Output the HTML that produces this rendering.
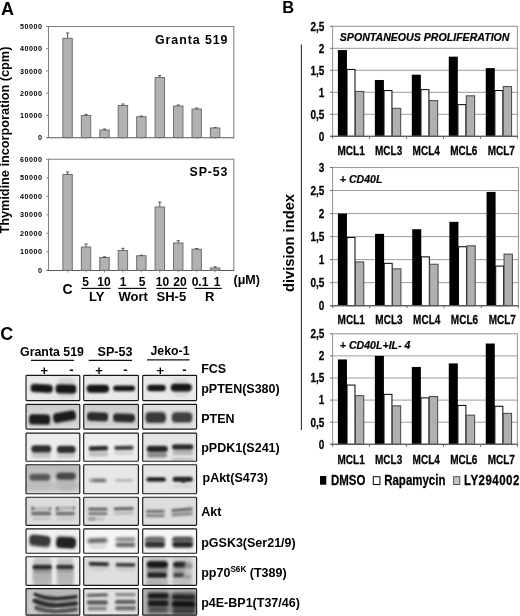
<!DOCTYPE html>
<html><head><meta charset="utf-8"><title>Figure</title>
<style>html,body{margin:0;padding:0;background:#fff}svg{display:block}</style></head>
<body>
<svg width="520" height="616" viewBox="0 0 520 616" font-family="Liberation Sans, Arial, Helvetica, sans-serif">
<rect width="520" height="616" fill="#fff"/>
<text transform="translate(1,14.5)" font-size="18" font-weight="bold" text-anchor="start" fill="#000">A</text>
<path d="M48.5,137.5 L48.5,26.5 L233.8,26.5 L233.8,137.5" fill="none" stroke="#7f7f7f" stroke-width="1.05"/>
<line x1="46.5" y1="137.7" x2="234.3" y2="137.7" stroke="#5a5a5a" stroke-width="1.1"/>
<line x1="46.3" y1="137.5" x2="48.5" y2="137.5" stroke="#7f7f7f" stroke-width="1"/>
<text transform="translate(42.6,140.1)" font-size="7.2" font-weight="bold" text-anchor="end" fill="#000" letter-spacing="0.5">0</text>
<line x1="46.3" y1="115.3" x2="48.5" y2="115.3" stroke="#7f7f7f" stroke-width="1"/>
<text transform="translate(42.6,117.89999999999999)" font-size="7.2" font-weight="bold" text-anchor="end" fill="#000" letter-spacing="0.5">10000</text>
<line x1="46.3" y1="93.1" x2="48.5" y2="93.1" stroke="#7f7f7f" stroke-width="1"/>
<text transform="translate(42.6,95.69999999999999)" font-size="7.2" font-weight="bold" text-anchor="end" fill="#000" letter-spacing="0.5">20000</text>
<line x1="46.3" y1="70.9" x2="48.5" y2="70.9" stroke="#7f7f7f" stroke-width="1"/>
<text transform="translate(42.6,73.5)" font-size="7.2" font-weight="bold" text-anchor="end" fill="#000" letter-spacing="0.5">30000</text>
<line x1="46.3" y1="48.7" x2="48.5" y2="48.7" stroke="#7f7f7f" stroke-width="1"/>
<text transform="translate(42.6,51.300000000000004)" font-size="7.2" font-weight="bold" text-anchor="end" fill="#000" letter-spacing="0.5">40000</text>
<line x1="46.3" y1="26.5" x2="48.5" y2="26.5" stroke="#7f7f7f" stroke-width="1"/>
<text transform="translate(42.6,29.1)" font-size="7.2" font-weight="bold" text-anchor="end" fill="#000" letter-spacing="0.5">50000</text>
<rect x="62.90" y="38.30" width="9.40" height="99.20" fill="#b2b2b2" stroke="#6e6e6e" stroke-width="1" />
<line x1="67.6" y1="38.3" x2="67.6" y2="33" stroke="#444" stroke-width="0.9"/>
<line x1="66.0" y1="33" x2="69.19999999999999" y2="33" stroke="#444" stroke-width="0.9"/>
<line x1="67.6" y1="137.5" x2="67.6" y2="138.7" stroke="#777" stroke-width="0.9"/>
<rect x="81.34" y="115.50" width="9.40" height="22.00" fill="#b2b2b2" stroke="#6e6e6e" stroke-width="1" />
<line x1="86.04" y1="115.5" x2="86.04" y2="114.3" stroke="#444" stroke-width="0.9"/>
<line x1="84.44000000000001" y1="114.3" x2="87.64" y2="114.3" stroke="#444" stroke-width="0.9"/>
<line x1="86.04" y1="137.5" x2="86.04" y2="138.7" stroke="#777" stroke-width="0.9"/>
<rect x="99.78" y="130.00" width="9.40" height="7.50" fill="#b2b2b2" stroke="#6e6e6e" stroke-width="1" />
<line x1="104.48" y1="130" x2="104.48" y2="129" stroke="#444" stroke-width="0.9"/>
<line x1="102.88000000000001" y1="129" x2="106.08" y2="129" stroke="#444" stroke-width="0.9"/>
<line x1="104.48" y1="137.5" x2="104.48" y2="138.7" stroke="#777" stroke-width="0.9"/>
<rect x="118.22" y="105.50" width="9.40" height="32.00" fill="#b2b2b2" stroke="#6e6e6e" stroke-width="1" />
<line x1="122.92" y1="105.5" x2="122.92" y2="104" stroke="#444" stroke-width="0.9"/>
<line x1="121.32000000000001" y1="104" x2="124.52" y2="104" stroke="#444" stroke-width="0.9"/>
<line x1="122.92" y1="137.5" x2="122.92" y2="138.7" stroke="#777" stroke-width="0.9"/>
<rect x="136.66" y="116.75" width="9.40" height="20.75" fill="#b2b2b2" stroke="#6e6e6e" stroke-width="1" />
<line x1="141.35999999999999" y1="116.75" x2="141.35999999999999" y2="116" stroke="#444" stroke-width="0.9"/>
<line x1="139.76" y1="116" x2="142.95999999999998" y2="116" stroke="#444" stroke-width="0.9"/>
<line x1="141.35999999999999" y1="137.5" x2="141.35999999999999" y2="138.7" stroke="#777" stroke-width="0.9"/>
<rect x="155.10" y="77.50" width="9.40" height="60.00" fill="#b2b2b2" stroke="#6e6e6e" stroke-width="1" />
<line x1="159.79999999999998" y1="77.5" x2="159.79999999999998" y2="75.5" stroke="#444" stroke-width="0.9"/>
<line x1="158.2" y1="75.5" x2="161.39999999999998" y2="75.5" stroke="#444" stroke-width="0.9"/>
<line x1="159.79999999999998" y1="137.5" x2="159.79999999999998" y2="138.7" stroke="#777" stroke-width="0.9"/>
<rect x="173.54" y="106.00" width="9.40" height="31.50" fill="#b2b2b2" stroke="#6e6e6e" stroke-width="1" />
<line x1="178.24" y1="106" x2="178.24" y2="105" stroke="#444" stroke-width="0.9"/>
<line x1="176.64000000000001" y1="105" x2="179.84" y2="105" stroke="#444" stroke-width="0.9"/>
<line x1="178.24" y1="137.5" x2="178.24" y2="138.7" stroke="#777" stroke-width="0.9"/>
<rect x="191.98" y="109.00" width="9.40" height="28.50" fill="#b2b2b2" stroke="#6e6e6e" stroke-width="1" />
<line x1="196.68" y1="109" x2="196.68" y2="108" stroke="#444" stroke-width="0.9"/>
<line x1="195.08" y1="108" x2="198.28" y2="108" stroke="#444" stroke-width="0.9"/>
<line x1="196.68" y1="137.5" x2="196.68" y2="138.7" stroke="#777" stroke-width="0.9"/>
<rect x="210.42" y="128.00" width="9.40" height="9.50" fill="#b2b2b2" stroke="#6e6e6e" stroke-width="1" />
<line x1="215.12" y1="128" x2="215.12" y2="127.5" stroke="#444" stroke-width="0.9"/>
<line x1="213.52" y1="127.5" x2="216.72" y2="127.5" stroke="#444" stroke-width="0.9"/>
<line x1="215.12" y1="137.5" x2="215.12" y2="138.7" stroke="#777" stroke-width="0.9"/>
<text transform="translate(155,43.6)" font-size="12.4" font-weight="bold" text-anchor="start" fill="#000" textLength="72.5" lengthAdjust="spacing">Granta 519</text>
<path d="M48.5,270.3 L48.5,159.3 L233.8,159.3 L233.8,270.3" fill="none" stroke="#7f7f7f" stroke-width="1.05"/>
<line x1="46.5" y1="270.5" x2="234.3" y2="270.5" stroke="#5a5a5a" stroke-width="1.1"/>
<line x1="46.3" y1="270.3" x2="48.5" y2="270.3" stroke="#7f7f7f" stroke-width="1"/>
<text transform="translate(42.6,272.90000000000003)" font-size="7.2" font-weight="bold" text-anchor="end" fill="#000" letter-spacing="0.5">0</text>
<line x1="46.3" y1="251.8" x2="48.5" y2="251.8" stroke="#7f7f7f" stroke-width="1"/>
<text transform="translate(42.6,254.4)" font-size="7.2" font-weight="bold" text-anchor="end" fill="#000" letter-spacing="0.5">10000</text>
<line x1="46.3" y1="233.3" x2="48.5" y2="233.3" stroke="#7f7f7f" stroke-width="1"/>
<text transform="translate(42.6,235.9)" font-size="7.2" font-weight="bold" text-anchor="end" fill="#000" letter-spacing="0.5">20000</text>
<line x1="46.3" y1="214.8" x2="48.5" y2="214.8" stroke="#7f7f7f" stroke-width="1"/>
<text transform="translate(42.6,217.4)" font-size="7.2" font-weight="bold" text-anchor="end" fill="#000" letter-spacing="0.5">30000</text>
<line x1="46.3" y1="196.3" x2="48.5" y2="196.3" stroke="#7f7f7f" stroke-width="1"/>
<text transform="translate(42.6,198.9)" font-size="7.2" font-weight="bold" text-anchor="end" fill="#000" letter-spacing="0.5">40000</text>
<line x1="46.3" y1="177.8" x2="48.5" y2="177.8" stroke="#7f7f7f" stroke-width="1"/>
<text transform="translate(42.6,180.4)" font-size="7.2" font-weight="bold" text-anchor="end" fill="#000" letter-spacing="0.5">50000</text>
<line x1="46.3" y1="159.3" x2="48.5" y2="159.3" stroke="#7f7f7f" stroke-width="1"/>
<text transform="translate(42.6,161.9)" font-size="7.2" font-weight="bold" text-anchor="end" fill="#000" letter-spacing="0.5">60000</text>
<rect x="62.90" y="174.50" width="9.40" height="95.80" fill="#b2b2b2" stroke="#6e6e6e" stroke-width="1" />
<line x1="67.6" y1="174.5" x2="67.6" y2="172" stroke="#444" stroke-width="0.9"/>
<line x1="66.0" y1="172" x2="69.19999999999999" y2="172" stroke="#444" stroke-width="0.9"/>
<line x1="67.6" y1="270.3" x2="67.6" y2="272.5" stroke="#777" stroke-width="0.9"/>
<rect x="81.34" y="247.00" width="9.40" height="23.30" fill="#b2b2b2" stroke="#6e6e6e" stroke-width="1" />
<line x1="86.04" y1="247" x2="86.04" y2="244" stroke="#444" stroke-width="0.9"/>
<line x1="84.44000000000001" y1="244" x2="87.64" y2="244" stroke="#444" stroke-width="0.9"/>
<line x1="86.04" y1="270.3" x2="86.04" y2="272.5" stroke="#777" stroke-width="0.9"/>
<rect x="99.78" y="257.50" width="9.40" height="12.80" fill="#b2b2b2" stroke="#6e6e6e" stroke-width="1" />
<line x1="104.48" y1="257.5" x2="104.48" y2="256.8" stroke="#444" stroke-width="0.9"/>
<line x1="102.88000000000001" y1="256.8" x2="106.08" y2="256.8" stroke="#444" stroke-width="0.9"/>
<line x1="104.48" y1="270.3" x2="104.48" y2="272.5" stroke="#777" stroke-width="0.9"/>
<rect x="118.22" y="250.50" width="9.40" height="19.80" fill="#b2b2b2" stroke="#6e6e6e" stroke-width="1" />
<line x1="122.92" y1="250.5" x2="122.92" y2="248.3" stroke="#444" stroke-width="0.9"/>
<line x1="121.32000000000001" y1="248.3" x2="124.52" y2="248.3" stroke="#444" stroke-width="0.9"/>
<line x1="122.92" y1="270.3" x2="122.92" y2="272.5" stroke="#777" stroke-width="0.9"/>
<rect x="136.66" y="255.75" width="9.40" height="14.55" fill="#b2b2b2" stroke="#6e6e6e" stroke-width="1" />
<line x1="141.35999999999999" y1="255.75" x2="141.35999999999999" y2="255.2" stroke="#444" stroke-width="0.9"/>
<line x1="139.76" y1="255.2" x2="142.95999999999998" y2="255.2" stroke="#444" stroke-width="0.9"/>
<line x1="141.35999999999999" y1="270.3" x2="141.35999999999999" y2="272.5" stroke="#777" stroke-width="0.9"/>
<rect x="155.10" y="207.00" width="9.40" height="63.30" fill="#b2b2b2" stroke="#6e6e6e" stroke-width="1" />
<line x1="159.79999999999998" y1="207" x2="159.79999999999998" y2="202" stroke="#444" stroke-width="0.9"/>
<line x1="158.2" y1="202" x2="161.39999999999998" y2="202" stroke="#444" stroke-width="0.9"/>
<line x1="159.79999999999998" y1="270.3" x2="159.79999999999998" y2="272.5" stroke="#777" stroke-width="0.9"/>
<rect x="173.54" y="243.00" width="9.40" height="27.30" fill="#b2b2b2" stroke="#6e6e6e" stroke-width="1" />
<line x1="178.24" y1="243" x2="178.24" y2="240.7" stroke="#444" stroke-width="0.9"/>
<line x1="176.64000000000001" y1="240.7" x2="179.84" y2="240.7" stroke="#444" stroke-width="0.9"/>
<line x1="178.24" y1="270.3" x2="178.24" y2="272.5" stroke="#777" stroke-width="0.9"/>
<rect x="191.98" y="249.25" width="9.40" height="21.05" fill="#b2b2b2" stroke="#6e6e6e" stroke-width="1" />
<line x1="196.68" y1="249.25" x2="196.68" y2="248.5" stroke="#444" stroke-width="0.9"/>
<line x1="195.08" y1="248.5" x2="198.28" y2="248.5" stroke="#444" stroke-width="0.9"/>
<line x1="196.68" y1="270.3" x2="196.68" y2="272.5" stroke="#777" stroke-width="0.9"/>
<rect x="210.42" y="268.00" width="9.40" height="2.30" fill="#b2b2b2" stroke="#6e6e6e" stroke-width="1" />
<line x1="215.12" y1="268" x2="215.12" y2="266.8" stroke="#444" stroke-width="0.9"/>
<line x1="213.52" y1="266.8" x2="216.72" y2="266.8" stroke="#444" stroke-width="0.9"/>
<line x1="215.12" y1="270.3" x2="215.12" y2="272.5" stroke="#777" stroke-width="0.9"/>
<text transform="translate(189.5,175.6)" font-size="12.4" font-weight="bold" text-anchor="start" fill="#000" textLength="38" lengthAdjust="spacing">SP-53</text>
<text transform="translate(9.1,233.6) rotate(-90)" font-size="12.6" font-weight="bold" text-anchor="start" fill="#000" textLength="187" lengthAdjust="spacingAndGlyphs">Thymidine incorporation (cpm)</text>
<text transform="translate(67.5,293.8)" font-size="14" font-weight="bold" text-anchor="middle" fill="#000">C</text>
<text transform="translate(85.5,286.4)" font-size="12" font-weight="bold" text-anchor="middle" fill="#000">5</text>
<text transform="translate(104,286.4)" font-size="12" font-weight="bold" text-anchor="middle" fill="#000">10</text>
<text transform="translate(123,286.4)" font-size="12" font-weight="bold" text-anchor="middle" fill="#000">1</text>
<text transform="translate(142,286.4)" font-size="12" font-weight="bold" text-anchor="middle" fill="#000">5</text>
<text transform="translate(162.5,286.4)" font-size="12" font-weight="bold" text-anchor="middle" fill="#000">10</text>
<text transform="translate(180,286.4)" font-size="12" font-weight="bold" text-anchor="middle" fill="#000">20</text>
<text transform="translate(200,286.4)" font-size="12" font-weight="bold" text-anchor="middle" fill="#000">0.1</text>
<text transform="translate(217,286.4)" font-size="12" font-weight="bold" text-anchor="middle" fill="#000">1</text>
<line x1="81.3" y1="288.4" x2="110.5" y2="288.4" stroke="#111" stroke-width="1.2"/>
<line x1="118.3" y1="288.4" x2="146.3" y2="288.4" stroke="#111" stroke-width="1.2"/>
<line x1="156.3" y1="288.4" x2="187" y2="288.4" stroke="#111" stroke-width="1.2"/>
<line x1="194.5" y1="288.4" x2="221.8" y2="288.4" stroke="#111" stroke-width="1.2"/>
<text transform="translate(96.6,300.9)" font-size="13" font-weight="bold" text-anchor="middle" fill="#000">LY</text>
<text transform="translate(133.1,300.9)" font-size="13" font-weight="bold" text-anchor="middle" fill="#000">Wort</text>
<text transform="translate(171.3,301.2)" font-size="13" font-weight="bold" text-anchor="middle" fill="#000">SH-5</text>
<text transform="translate(209.6,301.2)" font-size="13" font-weight="bold" text-anchor="middle" fill="#000">R</text>
<text transform="translate(233.5,284.3)" font-size="12.5" font-weight="bold" text-anchor="start" fill="#000">(μM)</text>
<text transform="translate(282.3,13.2)" font-size="16.5" font-weight="bold" text-anchor="start" fill="#000">B</text>
<line x1="301.4" y1="44.5" x2="301.4" y2="430" stroke="#333" stroke-width="1.1"/>
<text transform="translate(294.3,292) rotate(-90)" font-size="14.8" font-weight="bold" text-anchor="start" fill="#000" textLength="98" lengthAdjust="spacingAndGlyphs">division index</text>
<line x1="332.6" y1="114.30000000000001" x2="517.4" y2="114.30000000000001" stroke="#9c9c9c" stroke-width="1"/>
<line x1="332.6" y1="92.30000000000001" x2="517.4" y2="92.30000000000001" stroke="#9c9c9c" stroke-width="1"/>
<line x1="332.6" y1="70.3" x2="517.4" y2="70.3" stroke="#9c9c9c" stroke-width="1"/>
<line x1="332.6" y1="48.3" x2="517.4" y2="48.3" stroke="#9c9c9c" stroke-width="1"/>
<rect x="337.90" y="50.06" width="9.05" height="86.24" fill="#000" stroke="none" stroke-width="1" />
<rect x="347.05" y="69.42" width="7.95" height="66.88" fill="#fff" stroke="#000" stroke-width="1" />
<rect x="355.40" y="91.42" width="8.35" height="44.88" fill="#b0b0b0" stroke="#444" stroke-width="1" />
<rect x="374.86" y="79.98" width="9.05" height="56.32" fill="#000" stroke="none" stroke-width="1" />
<rect x="384.01" y="90.54" width="7.95" height="45.76" fill="#fff" stroke="#000" stroke-width="1" />
<rect x="392.36" y="108.32" width="8.35" height="27.98" fill="#b0b0b0" stroke="#444" stroke-width="1" />
<rect x="411.82" y="74.70" width="9.05" height="61.60" fill="#000" stroke="none" stroke-width="1" />
<rect x="420.97" y="89.66" width="7.95" height="46.64" fill="#fff" stroke="#000" stroke-width="1" />
<rect x="429.32" y="100.66" width="8.35" height="35.64" fill="#b0b0b0" stroke="#444" stroke-width="1" />
<rect x="448.78" y="56.66" width="9.05" height="79.64" fill="#000" stroke="none" stroke-width="1" />
<rect x="457.93" y="104.62" width="7.95" height="31.68" fill="#fff" stroke="#000" stroke-width="1" />
<rect x="466.28" y="95.82" width="8.35" height="40.48" fill="#b0b0b0" stroke="#444" stroke-width="1" />
<rect x="485.74" y="68.10" width="9.05" height="68.20" fill="#000" stroke="none" stroke-width="1" />
<rect x="494.89" y="90.54" width="7.95" height="45.76" fill="#fff" stroke="#000" stroke-width="1" />
<rect x="503.24" y="86.58" width="8.35" height="49.72" fill="#b0b0b0" stroke="#444" stroke-width="1" />
<rect x="332.6" y="26.3" width="184.79999999999995" height="110.00000000000001" fill="none" stroke="#9c9c9c" stroke-width="1.1"/>
<line x1="330.1" y1="136.3" x2="517.4" y2="136.3" stroke="#444" stroke-width="1.1"/>
<line x1="330.1" y1="136.3" x2="332.6" y2="136.3" stroke="#666" stroke-width="1"/>
<text transform="translate(324.3,140.60000000000002) scale(0.82,1)" font-size="12.2" font-weight="bold" text-anchor="end" fill="#000" stroke="#000" stroke-width="0.25">0</text>
<line x1="330.1" y1="114.30000000000001" x2="332.6" y2="114.30000000000001" stroke="#666" stroke-width="1"/>
<text transform="translate(324.3,118.60000000000001) scale(0.82,1)" font-size="12.2" font-weight="bold" text-anchor="end" fill="#000" stroke="#000" stroke-width="0.25">0,5</text>
<line x1="330.1" y1="92.30000000000001" x2="332.6" y2="92.30000000000001" stroke="#666" stroke-width="1"/>
<text transform="translate(324.3,96.60000000000001) scale(0.82,1)" font-size="12.2" font-weight="bold" text-anchor="end" fill="#000" stroke="#000" stroke-width="0.25">1</text>
<line x1="330.1" y1="70.3" x2="332.6" y2="70.3" stroke="#666" stroke-width="1"/>
<text transform="translate(324.3,74.6) scale(0.82,1)" font-size="12.2" font-weight="bold" text-anchor="end" fill="#000" stroke="#000" stroke-width="0.25">1,5</text>
<line x1="330.1" y1="48.3" x2="332.6" y2="48.3" stroke="#666" stroke-width="1"/>
<text transform="translate(324.3,52.599999999999994) scale(0.82,1)" font-size="12.2" font-weight="bold" text-anchor="end" fill="#000" stroke="#000" stroke-width="0.25">2</text>
<line x1="330.1" y1="26.299999999999983" x2="332.6" y2="26.299999999999983" stroke="#666" stroke-width="1"/>
<text transform="translate(324.3,30.599999999999984) scale(0.82,1)" font-size="12.2" font-weight="bold" text-anchor="end" fill="#000" stroke="#000" stroke-width="0.25">2,5</text>
<line x1="332.6" y1="136.3" x2="332.6" y2="138.8" stroke="#666" stroke-width="1"/>
<line x1="369.56" y1="136.3" x2="369.56" y2="138.8" stroke="#666" stroke-width="1"/>
<line x1="406.52" y1="136.3" x2="406.52" y2="138.8" stroke="#666" stroke-width="1"/>
<line x1="443.48" y1="136.3" x2="443.48" y2="138.8" stroke="#666" stroke-width="1"/>
<line x1="480.44" y1="136.3" x2="480.44" y2="138.8" stroke="#666" stroke-width="1"/>
<line x1="517.4" y1="136.3" x2="517.4" y2="138.8" stroke="#666" stroke-width="1"/>
<text transform="translate(351.08000000000004,155) scale(0.82,1)" font-size="12.2" font-weight="bold" text-anchor="middle" fill="#000" stroke="#000" stroke-width="0.25">MCL1</text>
<text transform="translate(388.64000000000004,155) scale(0.82,1)" font-size="12.2" font-weight="bold" text-anchor="middle" fill="#000" stroke="#000" stroke-width="0.25">MCL3</text>
<text transform="translate(426.2,155) scale(0.82,1)" font-size="12.2" font-weight="bold" text-anchor="middle" fill="#000" stroke="#000" stroke-width="0.25">MCL4</text>
<text transform="translate(463.76000000000005,155) scale(0.82,1)" font-size="12.2" font-weight="bold" text-anchor="middle" fill="#000" stroke="#000" stroke-width="0.25">MCL6</text>
<text transform="translate(501.31999999999994,155) scale(0.82,1)" font-size="12.2" font-weight="bold" text-anchor="middle" fill="#000" stroke="#000" stroke-width="0.25">MCL7</text>
<text transform="translate(339.8,40.5)" font-size="10.6" font-weight="bold" text-anchor="start" fill="#000" font-style="italic" stroke="#000" stroke-width="0.2">SPONTANEOUS PROLIFERATION</text>
<line x1="332.6" y1="282.66666666666663" x2="518.4" y2="282.66666666666663" stroke="#9c9c9c" stroke-width="1"/>
<line x1="332.6" y1="259.6333333333333" x2="518.4" y2="259.6333333333333" stroke="#9c9c9c" stroke-width="1"/>
<line x1="332.6" y1="236.6" x2="518.4" y2="236.6" stroke="#9c9c9c" stroke-width="1"/>
<line x1="332.6" y1="213.56666666666666" x2="518.4" y2="213.56666666666666" stroke="#9c9c9c" stroke-width="1"/>
<line x1="332.6" y1="190.5333333333333" x2="518.4" y2="190.5333333333333" stroke="#9c9c9c" stroke-width="1"/>
<rect x="337.90" y="213.57" width="9.05" height="92.13" fill="#000" stroke="none" stroke-width="1" />
<rect x="347.05" y="237.52" width="7.95" height="68.18" fill="#fff" stroke="#000" stroke-width="1" />
<rect x="355.40" y="261.94" width="8.35" height="43.76" fill="#b0b0b0" stroke="#444" stroke-width="1" />
<rect x="375.06" y="233.84" width="9.05" height="71.86" fill="#000" stroke="none" stroke-width="1" />
<rect x="384.21" y="263.32" width="7.95" height="42.38" fill="#fff" stroke="#000" stroke-width="1" />
<rect x="392.56" y="268.85" width="8.35" height="36.85" fill="#b0b0b0" stroke="#444" stroke-width="1" />
<rect x="412.22" y="229.23" width="9.05" height="76.47" fill="#000" stroke="none" stroke-width="1" />
<rect x="421.37" y="256.87" width="7.95" height="48.83" fill="#fff" stroke="#000" stroke-width="1" />
<rect x="429.72" y="264.24" width="8.35" height="41.46" fill="#b0b0b0" stroke="#444" stroke-width="1" />
<rect x="449.38" y="221.86" width="9.05" height="83.84" fill="#000" stroke="none" stroke-width="1" />
<rect x="458.53" y="246.73" width="7.95" height="58.97" fill="#fff" stroke="#000" stroke-width="1" />
<rect x="466.88" y="245.81" width="8.35" height="59.89" fill="#b0b0b0" stroke="#444" stroke-width="1" />
<rect x="486.54" y="191.92" width="9.05" height="113.78" fill="#000" stroke="none" stroke-width="1" />
<rect x="495.69" y="266.08" width="7.95" height="39.62" fill="#fff" stroke="#000" stroke-width="1" />
<rect x="504.04" y="254.11" width="8.35" height="51.59" fill="#b0b0b0" stroke="#444" stroke-width="1" />
<rect x="332.6" y="167.5" width="185.79999999999995" height="138.2" fill="none" stroke="#9c9c9c" stroke-width="1.1"/>
<line x1="330.1" y1="305.7" x2="518.4" y2="305.7" stroke="#444" stroke-width="1.1"/>
<line x1="330.1" y1="305.7" x2="332.6" y2="305.7" stroke="#666" stroke-width="1"/>
<text transform="translate(324.3,310.0) scale(0.82,1)" font-size="12.2" font-weight="bold" text-anchor="end" fill="#000" stroke="#000" stroke-width="0.25">0</text>
<line x1="330.1" y1="282.66666666666663" x2="332.6" y2="282.66666666666663" stroke="#666" stroke-width="1"/>
<text transform="translate(324.3,286.96666666666664) scale(0.82,1)" font-size="12.2" font-weight="bold" text-anchor="end" fill="#000" stroke="#000" stroke-width="0.25">0,5</text>
<line x1="330.1" y1="259.6333333333333" x2="332.6" y2="259.6333333333333" stroke="#666" stroke-width="1"/>
<text transform="translate(324.3,263.93333333333334) scale(0.82,1)" font-size="12.2" font-weight="bold" text-anchor="end" fill="#000" stroke="#000" stroke-width="0.25">1</text>
<line x1="330.1" y1="236.6" x2="332.6" y2="236.6" stroke="#666" stroke-width="1"/>
<text transform="translate(324.3,240.9) scale(0.82,1)" font-size="12.2" font-weight="bold" text-anchor="end" fill="#000" stroke="#000" stroke-width="0.25">1,5</text>
<line x1="330.1" y1="213.56666666666666" x2="332.6" y2="213.56666666666666" stroke="#666" stroke-width="1"/>
<text transform="translate(324.3,217.86666666666667) scale(0.82,1)" font-size="12.2" font-weight="bold" text-anchor="end" fill="#000" stroke="#000" stroke-width="0.25">2</text>
<line x1="330.1" y1="190.5333333333333" x2="332.6" y2="190.5333333333333" stroke="#666" stroke-width="1"/>
<text transform="translate(324.3,194.83333333333331) scale(0.82,1)" font-size="12.2" font-weight="bold" text-anchor="end" fill="#000" stroke="#000" stroke-width="0.25">2,5</text>
<line x1="330.1" y1="167.5" x2="332.6" y2="167.5" stroke="#666" stroke-width="1"/>
<text transform="translate(324.3,171.8) scale(0.82,1)" font-size="12.2" font-weight="bold" text-anchor="end" fill="#000" stroke="#000" stroke-width="0.25">3</text>
<line x1="332.6" y1="305.7" x2="332.6" y2="308.2" stroke="#666" stroke-width="1"/>
<line x1="369.76" y1="305.7" x2="369.76" y2="308.2" stroke="#666" stroke-width="1"/>
<line x1="406.92" y1="305.7" x2="406.92" y2="308.2" stroke="#666" stroke-width="1"/>
<line x1="444.08" y1="305.7" x2="444.08" y2="308.2" stroke="#666" stroke-width="1"/>
<line x1="481.24" y1="305.7" x2="481.24" y2="308.2" stroke="#666" stroke-width="1"/>
<line x1="518.4" y1="305.7" x2="518.4" y2="308.2" stroke="#666" stroke-width="1"/>
<text transform="translate(351.18,323.5) scale(0.82,1)" font-size="12.2" font-weight="bold" text-anchor="middle" fill="#000" stroke="#000" stroke-width="0.25">MCL1</text>
<text transform="translate(388.94000000000005,323.5) scale(0.82,1)" font-size="12.2" font-weight="bold" text-anchor="middle" fill="#000" stroke="#000" stroke-width="0.25">MCL3</text>
<text transform="translate(426.7,323.5) scale(0.82,1)" font-size="12.2" font-weight="bold" text-anchor="middle" fill="#000" stroke="#000" stroke-width="0.25">MCL4</text>
<text transform="translate(464.46,323.5) scale(0.82,1)" font-size="12.2" font-weight="bold" text-anchor="middle" fill="#000" stroke="#000" stroke-width="0.25">MCL6</text>
<text transform="translate(502.2199999999999,323.5) scale(0.82,1)" font-size="12.2" font-weight="bold" text-anchor="middle" fill="#000" stroke="#000" stroke-width="0.25">MCL7</text>
<text transform="translate(339.8,183)" font-size="10.6" font-weight="bold" text-anchor="start" fill="#000" font-style="italic" stroke="#000" stroke-width="0.2">+ CD40L</text>
<line x1="332.6" y1="422.2" x2="517.4" y2="422.2" stroke="#9c9c9c" stroke-width="1"/>
<line x1="332.6" y1="400.1" x2="517.4" y2="400.1" stroke="#9c9c9c" stroke-width="1"/>
<line x1="332.6" y1="378.0" x2="517.4" y2="378.0" stroke="#9c9c9c" stroke-width="1"/>
<line x1="332.6" y1="355.9" x2="517.4" y2="355.9" stroke="#9c9c9c" stroke-width="1"/>
<rect x="337.90" y="359.44" width="9.05" height="84.86" fill="#000" stroke="none" stroke-width="1" />
<rect x="347.05" y="385.07" width="7.95" height="59.23" fill="#fff" stroke="#000" stroke-width="1" />
<rect x="355.40" y="395.68" width="8.35" height="48.62" fill="#b0b0b0" stroke="#444" stroke-width="1" />
<rect x="374.86" y="355.90" width="9.05" height="88.40" fill="#000" stroke="none" stroke-width="1" />
<rect x="384.01" y="394.35" width="7.95" height="49.95" fill="#fff" stroke="#000" stroke-width="1" />
<rect x="392.36" y="405.85" width="8.35" height="38.45" fill="#b0b0b0" stroke="#444" stroke-width="1" />
<rect x="411.82" y="366.95" width="9.05" height="77.35" fill="#000" stroke="none" stroke-width="1" />
<rect x="420.97" y="397.89" width="7.95" height="46.41" fill="#fff" stroke="#000" stroke-width="1" />
<rect x="429.32" y="396.56" width="8.35" height="47.74" fill="#b0b0b0" stroke="#444" stroke-width="1" />
<rect x="448.78" y="363.41" width="9.05" height="80.89" fill="#000" stroke="none" stroke-width="1" />
<rect x="457.93" y="405.40" width="7.95" height="38.90" fill="#fff" stroke="#000" stroke-width="1" />
<rect x="466.28" y="415.13" width="8.35" height="29.17" fill="#b0b0b0" stroke="#444" stroke-width="1" />
<rect x="485.74" y="343.52" width="9.05" height="100.78" fill="#000" stroke="none" stroke-width="1" />
<rect x="494.89" y="406.29" width="7.95" height="38.01" fill="#fff" stroke="#000" stroke-width="1" />
<rect x="503.24" y="413.36" width="8.35" height="30.94" fill="#b0b0b0" stroke="#444" stroke-width="1" />
<rect x="332.6" y="333.8" width="184.79999999999995" height="110.5" fill="none" stroke="#9c9c9c" stroke-width="1.1"/>
<line x1="330.1" y1="444.3" x2="517.4" y2="444.3" stroke="#444" stroke-width="1.1"/>
<line x1="330.1" y1="444.3" x2="332.6" y2="444.3" stroke="#666" stroke-width="1"/>
<text transform="translate(324.3,448.6) scale(0.82,1)" font-size="12.2" font-weight="bold" text-anchor="end" fill="#000" stroke="#000" stroke-width="0.25">0</text>
<line x1="330.1" y1="422.2" x2="332.6" y2="422.2" stroke="#666" stroke-width="1"/>
<text transform="translate(324.3,426.5) scale(0.82,1)" font-size="12.2" font-weight="bold" text-anchor="end" fill="#000" stroke="#000" stroke-width="0.25">0,5</text>
<line x1="330.1" y1="400.1" x2="332.6" y2="400.1" stroke="#666" stroke-width="1"/>
<text transform="translate(324.3,404.40000000000003) scale(0.82,1)" font-size="12.2" font-weight="bold" text-anchor="end" fill="#000" stroke="#000" stroke-width="0.25">1</text>
<line x1="330.1" y1="378.0" x2="332.6" y2="378.0" stroke="#666" stroke-width="1"/>
<text transform="translate(324.3,382.3) scale(0.82,1)" font-size="12.2" font-weight="bold" text-anchor="end" fill="#000" stroke="#000" stroke-width="0.25">1,5</text>
<line x1="330.1" y1="355.9" x2="332.6" y2="355.9" stroke="#666" stroke-width="1"/>
<text transform="translate(324.3,360.2) scale(0.82,1)" font-size="12.2" font-weight="bold" text-anchor="end" fill="#000" stroke="#000" stroke-width="0.25">2</text>
<line x1="330.1" y1="333.8" x2="332.6" y2="333.8" stroke="#666" stroke-width="1"/>
<text transform="translate(324.3,338.1) scale(0.82,1)" font-size="12.2" font-weight="bold" text-anchor="end" fill="#000" stroke="#000" stroke-width="0.25">2,5</text>
<line x1="332.6" y1="444.3" x2="332.6" y2="446.8" stroke="#666" stroke-width="1"/>
<line x1="369.56" y1="444.3" x2="369.56" y2="446.8" stroke="#666" stroke-width="1"/>
<line x1="406.52" y1="444.3" x2="406.52" y2="446.8" stroke="#666" stroke-width="1"/>
<line x1="443.48" y1="444.3" x2="443.48" y2="446.8" stroke="#666" stroke-width="1"/>
<line x1="480.44" y1="444.3" x2="480.44" y2="446.8" stroke="#666" stroke-width="1"/>
<line x1="517.4" y1="444.3" x2="517.4" y2="446.8" stroke="#666" stroke-width="1"/>
<text transform="translate(351.08000000000004,463.8) scale(0.82,1)" font-size="12.2" font-weight="bold" text-anchor="middle" fill="#000" stroke="#000" stroke-width="0.25">MCL1</text>
<text transform="translate(388.64000000000004,463.8) scale(0.82,1)" font-size="12.2" font-weight="bold" text-anchor="middle" fill="#000" stroke="#000" stroke-width="0.25">MCL3</text>
<text transform="translate(426.2,463.8) scale(0.82,1)" font-size="12.2" font-weight="bold" text-anchor="middle" fill="#000" stroke="#000" stroke-width="0.25">MCL4</text>
<text transform="translate(463.76000000000005,463.8) scale(0.82,1)" font-size="12.2" font-weight="bold" text-anchor="middle" fill="#000" stroke="#000" stroke-width="0.25">MCL6</text>
<text transform="translate(501.31999999999994,463.8) scale(0.82,1)" font-size="12.2" font-weight="bold" text-anchor="middle" fill="#000" stroke="#000" stroke-width="0.25">MCL7</text>
<text transform="translate(339.8,349)" font-size="10.6" font-weight="bold" text-anchor="start" fill="#000" font-style="italic" stroke="#000" stroke-width="0.2">+ CD40L+IL- 4</text>
<rect x="320.00" y="476.00" width="6.30" height="8.70" fill="#000" stroke="none" stroke-width="1" />
<text transform="translate(331,485.4) scale(0.82,1)" font-size="14" font-weight="bold" text-anchor="start" fill="#000" stroke="#000" stroke-width="0.25">DMSO</text>
<rect x="373.30" y="476.70" width="6.60" height="7.80" fill="#fff" stroke="#000" stroke-width="1" />
<text transform="translate(384.2,485.4) scale(0.82,1)" font-size="14" font-weight="bold" text-anchor="start" fill="#000" stroke="#000" stroke-width="0.25">Rapamycin</text>
<rect x="453.60" y="476.70" width="6.20" height="7.80" fill="#c4c4c4" stroke="#555" stroke-width="1" />
<text transform="translate(464,485.4) scale(0.82,1)" font-size="14" font-weight="bold" text-anchor="start" fill="#000" stroke="#000" stroke-width="0.25" textLength="67.5" lengthAdjust="spacing">LY294002</text>
<defs><filter id="b1" x="-20%" y="-50%" width="140%" height="200%"><feGaussianBlur stdDeviation="1.1"/></filter><filter id="b2" x="-20%" y="-80%" width="140%" height="260%"><feGaussianBlur stdDeviation="0.8"/></filter><linearGradient id="gd" x1="0" y1="0" x2="0" y2="1"><stop offset="0" stop-color="#000" stop-opacity="0.1"/><stop offset="0.55" stop-color="#000" stop-opacity="0"/><stop offset="1" stop-color="#fff" stop-opacity="0.3"/></linearGradient><filter id="b3" x="-20%" y="-50%" width="140%" height="200%"><feGaussianBlur stdDeviation="1.6"/></filter></defs>
<text transform="translate(0.3,340)" font-size="18" font-weight="bold" text-anchor="start" fill="#000">C</text>
<text transform="translate(20,356.3)" font-size="12" font-weight="bold" text-anchor="start" fill="#000" textLength="64" lengthAdjust="spacingAndGlyphs">Granta 519</text>
<text transform="translate(97.5,356.3)" font-size="12" font-weight="bold" text-anchor="start" fill="#000" textLength="35" lengthAdjust="spacingAndGlyphs">SP-53</text>
<text transform="translate(150.5,355.3)" font-size="12" font-weight="bold" text-anchor="start" fill="#000" textLength="39" lengthAdjust="spacingAndGlyphs">Jeko-1</text>
<line x1="31" y1="360.4" x2="74" y2="360.4" stroke="#111" stroke-width="1.2"/>
<line x1="88.7" y1="360.4" x2="132" y2="360.4" stroke="#111" stroke-width="1.2"/>
<line x1="147" y1="359.9" x2="189.5" y2="359.9" stroke="#111" stroke-width="1.2"/>
<text transform="translate(44.3,374.6)" font-size="13" font-weight="bold" text-anchor="middle" fill="#000">+</text>
<text transform="translate(99,374.6)" font-size="13" font-weight="bold" text-anchor="middle" fill="#000">+</text>
<text transform="translate(160.3,374.6)" font-size="13" font-weight="bold" text-anchor="middle" fill="#000">+</text>
<text transform="translate(71.3,374)" font-size="13" font-weight="bold" text-anchor="middle" fill="#000">-</text>
<text transform="translate(125.5,374)" font-size="13" font-weight="bold" text-anchor="middle" fill="#000">-</text>
<text transform="translate(184.5,374)" font-size="13" font-weight="bold" text-anchor="middle" fill="#000">-</text>
<text transform="translate(201.2,373.2)" font-size="12.5" font-weight="bold" text-anchor="start" fill="#000">FCS</text>
<clipPath id="c00"><rect x="26" y="375.3" width="53.80" height="25.30"/></clipPath>
<rect x="26.00" y="375.30" width="53.80" height="25.30" fill="#e9e9e9" stroke="none" stroke-width="1" />
<g clip-path="url(#c00)">
<rect x="58.00" y="378.00" width="17.00" height="20.00" rx="3.60" fill="#d4d4d4" filter="url(#b3)" transform="rotate(0.00 66.50 388.00)"/>
<rect x="30.60" y="384.20" width="22.20" height="8.40" rx="3.60" fill="#141414" filter="url(#b1)" transform="rotate(3.09 41.70 388.40)"/>
<rect x="55.60" y="384.60" width="20.70" height="9.00" rx="3.60" fill="#141414" filter="url(#b1)" transform="rotate(1.38 65.95 389.10)"/>
</g>
<rect x="26.00" y="375.30" width="53.80" height="25.30" fill="none" stroke="#1a1a1a" stroke-width="1.15" rx="0.8"/>
<clipPath id="c01"><rect x="83.7" y="375.3" width="54.70" height="25.30"/></clipPath>
<rect x="83.70" y="375.30" width="54.70" height="25.30" fill="#e9e9e9" stroke="none" stroke-width="1" />
<g clip-path="url(#c01)">
<rect x="86.70" y="384.80" width="22.30" height="7.90" rx="3.60" fill="#141414" filter="url(#b1)" transform="rotate(0.00 97.85 388.75)"/>
<rect x="113.20" y="385.50" width="21.80" height="5.70" rx="2.85" fill="#181818" filter="url(#b1)" transform="rotate(0.00 124.10 388.35)"/>
</g>
<rect x="83.70" y="375.30" width="54.70" height="25.30" fill="none" stroke="#1a1a1a" stroke-width="1.15" rx="0.8"/>
<clipPath id="c02"><rect x="142.7" y="375.3" width="53.90" height="25.30"/></clipPath>
<rect x="142.70" y="375.30" width="53.90" height="25.30" fill="#e9e9e9" stroke="none" stroke-width="1" />
<g clip-path="url(#c02)">
<rect x="174.00" y="378.00" width="14.00" height="19.00" rx="3.60" fill="#d8d8d8" filter="url(#b3)" transform="rotate(0.00 181.00 387.50)"/>
<rect x="147.20" y="384.80" width="18.60" height="6.40" rx="3.20" fill="#161616" filter="url(#b1)" transform="rotate(0.00 156.50 388.00)"/>
<rect x="170.70" y="383.80" width="21.10" height="7.60" rx="3.60" fill="#141414" filter="url(#b1)" transform="rotate(0.00 181.25 387.60)"/>
</g>
<rect x="142.70" y="375.30" width="53.90" height="25.30" fill="none" stroke="#1a1a1a" stroke-width="1.15" rx="0.8"/>
<clipPath id="c10"><rect x="26" y="404.4" width="53.80" height="24.70"/></clipPath>
<rect x="26.00" y="404.40" width="53.80" height="24.70" fill="#dedede" stroke="none" stroke-width="1" />
<rect x="26.00" y="404.40" width="53.80" height="24.70" fill="url(#gd)" stroke="none" stroke-width="1" />
<g clip-path="url(#c10)">
<rect x="29.00" y="414.20" width="21.20" height="10.40" rx="3.60" fill="#1c1c1c" filter="url(#b1)" transform="rotate(1.35 39.60 419.40)"/>
<rect x="53.00" y="411.80" width="23.00" height="9.80" rx="3.60" fill="#1c1c1c" filter="url(#b1)" transform="rotate(-9.87 64.50 416.70)"/>
</g>
<rect x="26.00" y="404.40" width="53.80" height="24.70" fill="none" stroke="#1a1a1a" stroke-width="1.15" rx="0.8"/>
<clipPath id="c11"><rect x="83.7" y="404.4" width="54.70" height="24.70"/></clipPath>
<rect x="83.70" y="404.40" width="54.70" height="24.70" fill="#dedede" stroke="none" stroke-width="1" />
<rect x="83.70" y="404.40" width="54.70" height="24.70" fill="url(#gd)" stroke="none" stroke-width="1" />
<g clip-path="url(#c11)">
<rect x="87.00" y="412.30" width="21.20" height="8.90" rx="3.60" fill="#2c2c2c" filter="url(#b1)" transform="rotate(2.16 97.60 416.75)"/>
<rect x="113.00" y="413.50" width="22.00" height="8.70" rx="3.60" fill="#2a2a2a" filter="url(#b1)" transform="rotate(2.08 124.00 417.85)"/>
</g>
<rect x="83.70" y="404.40" width="54.70" height="24.70" fill="none" stroke="#1a1a1a" stroke-width="1.15" rx="0.8"/>
<clipPath id="c12"><rect x="142.7" y="404.4" width="53.90" height="24.70"/></clipPath>
<rect x="142.70" y="404.40" width="53.90" height="24.70" fill="#e0e0e0" stroke="none" stroke-width="1" />
<g clip-path="url(#c12)">
<rect x="145.50" y="412.00" width="20.10" height="11.00" rx="3.60" fill="#3c3c3c" filter="url(#b3)" transform="rotate(0.00 155.55 417.50)"/>
<rect x="172.00" y="412.30" width="20.00" height="10.30" rx="3.60" fill="#404040" filter="url(#b3)" transform="rotate(0.00 182.00 417.45)"/>
<rect x="147.00" y="414.00" width="18.00" height="7.00" rx="3.50" fill="#383838" filter="url(#b1)" transform="rotate(0.00 156.00 417.50)"/>
<rect x="173.00" y="414.00" width="18.00" height="7.00" rx="3.50" fill="#404040" filter="url(#b1)" transform="rotate(0.00 182.00 417.50)"/>
</g>
<rect x="142.70" y="404.40" width="53.90" height="24.70" fill="none" stroke="#1a1a1a" stroke-width="1.15" rx="0.8"/>
<clipPath id="c20"><rect x="26" y="433.1" width="53.80" height="28.10"/></clipPath>
<rect x="26.00" y="433.10" width="53.80" height="28.10" fill="#ececec" stroke="none" stroke-width="1" />
<g clip-path="url(#c20)">
<rect x="31.50" y="452.00" width="19.50" height="6.00" rx="3.00" fill="#c4c4c4" filter="url(#b3)" transform="rotate(0.00 41.25 455.00)"/>
<rect x="57.00" y="452.00" width="18.50" height="6.00" rx="3.00" fill="#c8c8c8" filter="url(#b3)" transform="rotate(0.00 66.25 455.00)"/>
<rect x="31.20" y="445.30" width="20.10" height="7.30" rx="3.60" fill="#2e2e2e" filter="url(#b1)" transform="rotate(0.00 41.25 448.95)"/>
<rect x="56.90" y="445.80" width="18.80" height="7.20" rx="3.60" fill="#2e2e2e" filter="url(#b1)" transform="rotate(0.00 66.30 449.40)"/>
</g>
<rect x="26.00" y="433.10" width="53.80" height="28.10" fill="none" stroke="#1a1a1a" stroke-width="1.15" rx="0.8"/>
<clipPath id="c21"><rect x="83.7" y="433.1" width="54.70" height="28.10"/></clipPath>
<rect x="83.70" y="433.10" width="54.70" height="28.10" fill="#ededed" stroke="none" stroke-width="1" />
<g clip-path="url(#c21)">
<rect x="88.60" y="452.00" width="19.40" height="4.50" rx="2.25" fill="#bdbdbd" filter="url(#b1)" transform="rotate(0.00 98.30 454.25)"/>
<rect x="114.50" y="451.50" width="19.00" height="3.50" rx="1.75" fill="#d2d2d2" filter="url(#b1)" transform="rotate(0.00 124.00 453.25)"/>
<rect x="88.60" y="446.00" width="19.60" height="4.80" rx="2.40" fill="#2c2c2c" filter="url(#b1)" transform="rotate(-1.75 98.40 448.40)"/>
<rect x="114.20" y="445.80" width="19.50" height="4.10" rx="2.05" fill="#404040" filter="url(#b1)" transform="rotate(-1.18 123.95 447.85)"/>
</g>
<rect x="83.70" y="433.10" width="54.70" height="28.10" fill="none" stroke="#1a1a1a" stroke-width="1.15" rx="0.8"/>
<clipPath id="c22"><rect x="142.7" y="433.1" width="53.90" height="28.10"/></clipPath>
<rect x="142.70" y="433.10" width="53.90" height="28.10" fill="#e4e4e4" stroke="none" stroke-width="1" />
<g clip-path="url(#c22)">
<rect x="147.00" y="452.50" width="20.00" height="5.00" rx="2.50" fill="#8a8a8a" filter="url(#b1)" transform="rotate(0.00 157.00 455.00)"/>
<rect x="172.50" y="450.00" width="20.50" height="5.00" rx="2.50" fill="#b4b4b4" filter="url(#b1)" transform="rotate(0.00 182.75 452.50)"/>
<rect x="172.00" y="458.50" width="21.00" height="2.00" rx="1.00" fill="#b0b0b0" filter="url(#b2)" transform="rotate(0.00 182.50 459.50)"/>
<rect x="146.70" y="445.80" width="21.00" height="6.40" rx="3.20" fill="#262626" filter="url(#b1)" transform="rotate(0.00 157.20 449.00)"/>
<rect x="172.00" y="444.20" width="21.30" height="5.60" rx="2.80" fill="#2c2c2c" filter="url(#b1)" transform="rotate(0.00 182.65 447.00)"/>
</g>
<rect x="142.70" y="433.10" width="53.90" height="28.10" fill="none" stroke="#1a1a1a" stroke-width="1.15" rx="0.8"/>
<clipPath id="c30"><rect x="26" y="464.7" width="53.80" height="29.00"/></clipPath>
<rect x="26.00" y="464.70" width="53.80" height="29.00" fill="#cdcdcd" stroke="none" stroke-width="1" />
<rect x="26.00" y="464.70" width="53.80" height="29.00" fill="url(#gd)" stroke="none" stroke-width="1" />
<g clip-path="url(#c30)">
<rect x="30.00" y="478.00" width="20.00" height="12.00" rx="3.60" fill="#bdbdbd" filter="url(#b3)" transform="rotate(0.00 40.00 484.00)"/>
<rect x="57.00" y="478.00" width="18.00" height="12.00" rx="3.60" fill="#b8b8b8" filter="url(#b3)" transform="rotate(0.00 66.00 484.00)"/>
<rect x="29.40" y="474.00" width="20.80" height="6.40" rx="3.20" fill="#555" filter="url(#b3)" transform="rotate(0.00 39.80 477.20)"/>
<rect x="56.20" y="472.80" width="19.50" height="6.80" rx="3.40" fill="#454545" filter="url(#b3)" transform="rotate(0.00 65.95 476.20)"/>
<rect x="31.00" y="475.30" width="18.00" height="3.70" rx="1.85" fill="#5a5a5a" filter="url(#b1)" transform="rotate(0.00 40.00 477.15)"/>
<rect x="58.00" y="474.00" width="16.50" height="4.00" rx="2.00" fill="#484848" filter="url(#b1)" transform="rotate(0.00 66.25 476.00)"/>
</g>
<rect x="26.00" y="464.70" width="53.80" height="29.00" fill="none" stroke="#1a1a1a" stroke-width="1.15" rx="0.8"/>
<clipPath id="c31"><rect x="83.7" y="464.7" width="54.70" height="29.00"/></clipPath>
<rect x="83.70" y="464.70" width="54.70" height="29.00" fill="#e7e7e7" stroke="none" stroke-width="1" />
<g clip-path="url(#c31)">
<rect x="89.00" y="478.60" width="18.00" height="3.60" rx="1.80" fill="#a0a0a0" filter="url(#b1)" transform="rotate(0.00 98.00 480.40)"/>
<rect x="93.00" y="479.00" width="12.00" height="2.80" rx="1.40" fill="#7c7c7c" filter="url(#b1)" transform="rotate(0.00 99.00 480.40)"/>
<rect x="115.00" y="479.00" width="18.00" height="2.80" rx="1.40" fill="#b4b4b4" filter="url(#b1)" transform="rotate(0.00 124.00 480.40)"/>
</g>
<rect x="83.70" y="464.70" width="54.70" height="29.00" fill="none" stroke="#1a1a1a" stroke-width="1.15" rx="0.8"/>
<clipPath id="c32"><rect x="142.7" y="464.7" width="53.90" height="29.00"/></clipPath>
<rect x="142.70" y="464.70" width="53.90" height="29.00" fill="#e5e5e5" stroke="none" stroke-width="1" />
<g clip-path="url(#c32)">
<rect x="146.40" y="477.20" width="19.40" height="4.40" rx="2.20" fill="#1c1c1c" filter="url(#b2)" transform="rotate(0.00 156.10 479.40)"/>
<rect x="172.60" y="476.80" width="20.10" height="5.00" rx="2.50" fill="#242424" filter="url(#b2)" transform="rotate(0.00 182.65 479.30)"/>
<rect x="181.00" y="479.00" width="5.00" height="4.20" rx="2.10" fill="#333" filter="url(#b2)" transform="rotate(0.00 183.50 481.10)"/>
<rect x="174.00" y="484.00" width="18.00" height="4.00" rx="2.00" fill="#d4d4d4" filter="url(#b3)" transform="rotate(0.00 183.00 486.00)"/>
</g>
<rect x="142.70" y="464.70" width="53.90" height="29.00" fill="none" stroke="#1a1a1a" stroke-width="1.15" rx="0.8"/>
<clipPath id="c40"><rect x="26" y="497.2" width="53.80" height="28.20"/></clipPath>
<rect x="26.00" y="497.20" width="53.80" height="28.20" fill="#dcdcdc" stroke="none" stroke-width="1" />
<g clip-path="url(#c40)">
<rect x="31.20" y="507.20" width="20.10" height="2.80" rx="1.40" fill="#b4b4b4" filter="url(#b1)" transform="rotate(0.00 41.25 508.60)"/>
<rect x="31.00" y="506.50" width="3.50" height="4.00" rx="2.00" fill="#777" filter="url(#b1)" transform="rotate(0.00 32.75 508.50)"/>
<rect x="48.50" y="507.00" width="3.00" height="3.50" rx="1.75" fill="#888" filter="url(#b1)" transform="rotate(0.00 50.00 508.75)"/>
<rect x="31.20" y="511.60" width="20.10" height="3.80" rx="1.90" fill="#6e6e6e" filter="url(#b1)" transform="rotate(0.00 41.25 513.50)"/>
<rect x="32.00" y="517.00" width="18.50" height="3.20" rx="1.60" fill="#c2c2c2" filter="url(#b1)" transform="rotate(0.00 41.25 518.60)"/>
<rect x="55.60" y="506.80" width="19.40" height="2.80" rx="1.40" fill="#a8a8a8" filter="url(#b1)" transform="rotate(-1.77 65.30 508.20)"/>
<rect x="55.60" y="507.00" width="3.40" height="3.80" rx="1.90" fill="#707070" filter="url(#b1)" transform="rotate(0.00 57.30 508.90)"/>
<rect x="72.50" y="506.50" width="2.80" height="3.50" rx="1.75" fill="#8a8a8a" filter="url(#b1)" transform="rotate(0.00 73.90 508.25)"/>
<rect x="55.60" y="511.80" width="19.40" height="3.60" rx="1.80" fill="#707070" filter="url(#b1)" transform="rotate(0.00 65.30 513.60)"/>
<rect x="56.50" y="517.00" width="18.00" height="3.20" rx="1.60" fill="#c6c6c6" filter="url(#b1)" transform="rotate(0.00 65.50 518.60)"/>
</g>
<rect x="26.00" y="497.20" width="53.80" height="28.20" fill="none" stroke="#1a1a1a" stroke-width="1.15" rx="0.8"/>
<clipPath id="c41"><rect x="83.7" y="497.2" width="54.70" height="28.20"/></clipPath>
<rect x="83.70" y="497.20" width="54.70" height="28.20" fill="#dfdfdf" stroke="none" stroke-width="1" />
<g clip-path="url(#c41)">
<rect x="88.00" y="507.60" width="19.50" height="3.20" rx="1.60" fill="#6a6a6a" filter="url(#b1)" transform="rotate(0.00 97.75 509.20)"/>
<rect x="88.00" y="511.90" width="19.50" height="3.40" rx="1.70" fill="#7c7c7c" filter="url(#b1)" transform="rotate(0.00 97.75 513.60)"/>
<rect x="88.00" y="517.40" width="16.00" height="2.80" rx="1.40" fill="#bcbcbc" filter="url(#b1)" transform="rotate(0.00 96.00 518.80)"/>
<rect x="88.00" y="517.20" width="8.00" height="3.20" rx="1.60" fill="#9a9a9a" filter="url(#b1)" transform="rotate(0.00 92.00 518.80)"/>
<rect x="113.60" y="507.30" width="20.10" height="2.90" rx="1.45" fill="#5c5c5c" filter="url(#b1)" transform="rotate(-1.14 123.65 508.75)"/>
<rect x="113.60" y="511.80" width="20.10" height="2.60" rx="1.30" fill="#b4b4b4" filter="url(#b1)" transform="rotate(-0.86 123.65 513.10)"/>
</g>
<rect x="83.70" y="497.20" width="54.70" height="28.20" fill="none" stroke="#1a1a1a" stroke-width="1.15" rx="0.8"/>
<clipPath id="c42"><rect x="142.7" y="497.2" width="53.90" height="28.20"/></clipPath>
<rect x="142.70" y="497.20" width="53.90" height="28.20" fill="#dddddd" stroke="none" stroke-width="1" />
<g clip-path="url(#c42)">
<rect x="145.70" y="509.80" width="19.30" height="3.10" rx="1.55" fill="#747474" filter="url(#b1)" transform="rotate(-0.89 155.35 511.35)"/>
<rect x="145.70" y="514.00" width="19.30" height="3.20" rx="1.60" fill="#868686" filter="url(#b1)" transform="rotate(0.00 155.35 515.60)"/>
<rect x="171.40" y="508.30" width="21.30" height="3.20" rx="1.60" fill="#646464" filter="url(#b1)" transform="rotate(-4.83 182.05 509.90)"/>
<rect x="171.40" y="512.60" width="21.30" height="3.20" rx="1.60" fill="#868686" filter="url(#b1)" transform="rotate(-4.03 182.05 514.20)"/>
</g>
<rect x="142.70" y="497.20" width="53.90" height="28.20" fill="none" stroke="#1a1a1a" stroke-width="1.15" rx="0.8"/>
<clipPath id="c50"><rect x="26" y="528.9" width="53.80" height="24.30"/></clipPath>
<rect x="26.00" y="528.90" width="53.80" height="24.30" fill="#f1f1f1" stroke="none" stroke-width="1" />
<g clip-path="url(#c50)">
<rect x="29.40" y="535.50" width="20.80" height="11.00" rx="3.60" fill="#3a3a3a" filter="url(#b3)" transform="rotate(6.04 39.80 541.00)"/>
<rect x="56.20" y="536.80" width="19.50" height="11.20" rx="3.60" fill="#222" filter="url(#b3)" transform="rotate(2.94 65.95 542.40)"/>
<rect x="30.50" y="536.50" width="19.00" height="6.50" rx="3.25" fill="#383838" filter="url(#b1)" transform="rotate(6.60 40.00 539.75)"/>
<rect x="57.50" y="539.00" width="17.50" height="8.00" rx="3.60" fill="#202020" filter="url(#b1)" transform="rotate(2.62 66.25 543.00)"/>
</g>
<rect x="26.00" y="528.90" width="53.80" height="24.30" fill="none" stroke="#1a1a1a" stroke-width="1.15" rx="0.8"/>
<clipPath id="c51"><rect x="83.7" y="528.9" width="54.70" height="24.30"/></clipPath>
<rect x="83.70" y="528.90" width="54.70" height="24.30" fill="#f5f5f5" stroke="none" stroke-width="1" />
<g clip-path="url(#c51)">
<rect x="87.40" y="538.00" width="20.10" height="5.30" rx="2.65" fill="#6e6e6e" filter="url(#b3)" transform="rotate(-2.28 97.45 540.65)"/>
<rect x="89.00" y="545.00" width="17.00" height="3.00" rx="1.50" fill="#cfcfcf" filter="url(#b3)" transform="rotate(0.00 97.50 546.50)"/>
<rect x="115.50" y="537.50" width="20.00" height="3.70" rx="1.85" fill="#808080" filter="url(#b3)" transform="rotate(0.00 125.50 539.35)"/>
<rect x="115.50" y="542.80" width="20.00" height="4.20" rx="2.10" fill="#5e5e5e" filter="url(#b3)" transform="rotate(0.00 125.50 544.90)"/>
</g>
<rect x="83.70" y="528.90" width="54.70" height="24.30" fill="none" stroke="#1a1a1a" stroke-width="1.15" rx="0.8"/>
<clipPath id="c52"><rect x="142.7" y="528.9" width="53.90" height="24.30"/></clipPath>
<rect x="142.70" y="528.90" width="53.90" height="24.30" fill="#f5f5f5" stroke="none" stroke-width="1" />
<g clip-path="url(#c52)">
<rect x="145.00" y="536.80" width="19.80" height="11.20" rx="3.60" fill="#8a8a8a" filter="url(#b3)" transform="rotate(0.00 154.90 542.40)"/>
<rect x="172.40" y="536.80" width="20.60" height="11.20" rx="3.60" fill="#848484" filter="url(#b3)" transform="rotate(0.00 182.70 542.40)"/>
<rect x="145.50" y="537.50" width="19.00" height="3.80" rx="1.90" fill="#6a6a6a" filter="url(#b1)" transform="rotate(0.00 155.00 539.40)"/>
<rect x="145.30" y="542.00" width="19.30" height="5.00" rx="2.50" fill="#303030" filter="url(#b1)" transform="rotate(0.00 154.95 544.50)"/>
<rect x="172.60" y="537.30" width="20.00" height="3.90" rx="1.95" fill="#555" filter="url(#b1)" transform="rotate(0.00 182.60 539.25)"/>
<rect x="172.80" y="542.00" width="19.80" height="5.00" rx="2.50" fill="#2c2c2c" filter="url(#b1)" transform="rotate(0.00 182.70 544.50)"/>
</g>
<rect x="142.70" y="528.90" width="53.90" height="24.30" fill="none" stroke="#1a1a1a" stroke-width="1.15" rx="0.8"/>
<clipPath id="c60"><rect x="26" y="556.7" width="53.80" height="28.70"/></clipPath>
<rect x="26.00" y="556.70" width="53.80" height="28.70" fill="#ececec" stroke="none" stroke-width="1" />
<g clip-path="url(#c60)">
<rect x="33.00" y="558.00" width="18.50" height="27.00" rx="3.60" fill="#c4c4c4" filter="url(#b3)" transform="rotate(0.00 42.25 571.50)"/>
<rect x="57.00" y="558.00" width="16.50" height="27.00" rx="3.60" fill="#c8c8c8" filter="url(#b3)" transform="rotate(0.00 65.25 571.50)"/>
<rect x="33.50" y="567.00" width="17.50" height="18.00" rx="3.60" fill="#b4b4b4" filter="url(#b3)" transform="rotate(0.00 42.25 576.00)"/>
<rect x="57.50" y="567.00" width="15.50" height="18.00" rx="3.60" fill="#b8b8b8" filter="url(#b3)" transform="rotate(0.00 65.25 576.00)"/>
<rect x="33.50" y="569.50" width="17.50" height="4.00" rx="2.00" fill="#9a9a9a" filter="url(#b1)" transform="rotate(0.00 42.25 571.50)"/>
<rect x="57.50" y="569.50" width="15.50" height="3.50" rx="1.75" fill="#a2a2a2" filter="url(#b1)" transform="rotate(0.00 65.25 571.25)"/>
<rect x="34.00" y="575.00" width="17.00" height="3.00" rx="1.50" fill="#b0b0b0" filter="url(#b1)" transform="rotate(0.00 42.50 576.50)"/>
<rect x="58.00" y="575.00" width="15.00" height="3.00" rx="1.50" fill="#b4b4b4" filter="url(#b1)" transform="rotate(0.00 65.50 576.50)"/>
<rect x="32.50" y="564.80" width="19.50" height="4.80" rx="2.40" fill="#2a2a2a" filter="url(#b1)" transform="rotate(0.00 42.25 567.20)"/>
<rect x="56.20" y="564.80" width="17.60" height="4.40" rx="2.20" fill="#343434" filter="url(#b1)" transform="rotate(0.00 65.00 567.00)"/>
</g>
<rect x="26.00" y="556.70" width="53.80" height="28.70" fill="none" stroke="#1a1a1a" stroke-width="1.15" rx="0.8"/>
<clipPath id="c61"><rect x="83.7" y="556.7" width="54.70" height="28.70"/></clipPath>
<rect x="83.70" y="556.70" width="54.70" height="28.70" fill="#dedede" stroke="none" stroke-width="1" />
<g clip-path="url(#c61)">
<rect x="90.00" y="566.00" width="18.00" height="4.00" rx="2.00" fill="#c8c8c8" filter="url(#b3)" transform="rotate(0.00 99.00 568.00)"/>
<rect x="117.00" y="567.00" width="17.00" height="4.00" rx="2.00" fill="#cacaca" filter="url(#b3)" transform="rotate(0.00 125.50 569.00)"/>
<rect x="88.60" y="562.00" width="20.40" height="3.90" rx="1.95" fill="#303030" filter="url(#b1)" transform="rotate(1.68 98.80 563.95)"/>
<rect x="115.50" y="563.00" width="20.00" height="3.80" rx="1.90" fill="#3c3c3c" filter="url(#b1)" transform="rotate(0.86 125.50 564.90)"/>
</g>
<rect x="83.70" y="556.70" width="54.70" height="28.70" fill="none" stroke="#1a1a1a" stroke-width="1.15" rx="0.8"/>
<clipPath id="c62"><rect x="142.7" y="556.7" width="53.90" height="28.70"/></clipPath>
<rect x="142.70" y="556.70" width="53.90" height="28.70" fill="#e2e2e2" stroke="none" stroke-width="1" />
<g clip-path="url(#c62)">
<rect x="146.00" y="558.00" width="22.00" height="28.00" rx="3.60" fill="#bcbcbc" filter="url(#b3)" transform="rotate(0.00 157.00 572.00)"/>
<rect x="172.00" y="558.00" width="20.00" height="28.00" rx="3.60" fill="#c2c2c2" filter="url(#b3)" transform="rotate(0.00 182.00 572.00)"/>
<rect x="147.00" y="566.00" width="20.50" height="8.00" rx="3.60" fill="#8c8c8c" filter="url(#b3)" transform="rotate(0.00 157.25 570.00)"/>
<rect x="173.50" y="566.00" width="11.50" height="8.00" rx="3.60" fill="#a0a0a0" filter="url(#b3)" transform="rotate(0.00 179.25 570.00)"/>
<rect x="146.80" y="561.20" width="21.00" height="6.60" rx="3.30" fill="#161616" filter="url(#b1)" transform="rotate(0.00 157.30 564.50)"/>
<rect x="147.30" y="572.60" width="19.50" height="5.20" rx="2.60" fill="#202020" filter="url(#b1)" transform="rotate(0.00 157.05 575.20)"/>
<rect x="173.20" y="561.80" width="13.30" height="5.80" rx="2.90" fill="#262626" filter="url(#b1)" transform="rotate(0.00 179.85 564.70)"/>
<rect x="184.00" y="563.50" width="8.50" height="4.50" rx="2.25" fill="#8a8a8a" filter="url(#b3)" transform="rotate(0.00 188.25 565.75)"/>
<rect x="173.20" y="572.80" width="11.30" height="4.70" rx="2.35" fill="#484848" filter="url(#b1)" transform="rotate(0.00 178.85 575.15)"/>
<rect x="183.00" y="574.50" width="8.00" height="4.50" rx="2.25" fill="#9a9a9a" filter="url(#b3)" transform="rotate(0.00 187.00 576.75)"/>
<rect x="147.00" y="580.50" width="20.00" height="4.00" rx="2.00" fill="#b0b0b0" filter="url(#b3)" transform="rotate(0.00 157.00 582.50)"/>
<rect x="174.00" y="580.50" width="16.00" height="4.00" rx="2.00" fill="#bcbcbc" filter="url(#b3)" transform="rotate(0.00 182.00 582.50)"/>
</g>
<rect x="142.70" y="556.70" width="53.90" height="28.70" fill="none" stroke="#1a1a1a" stroke-width="1.15" rx="0.8"/>
<clipPath id="c70"><rect x="26" y="588.6" width="53.80" height="26.60"/></clipPath>
<rect x="26.00" y="588.60" width="53.80" height="26.60" fill="#b9b9b9" stroke="none" stroke-width="1" />
<g clip-path="url(#c70)">
<rect x="27.00" y="590.00" width="11.00" height="24.00" rx="3.60" fill="#c8c8c8" filter="url(#b3)" transform="rotate(0.00 32.50 602.00)"/>
<rect x="36.00" y="595.00" width="20.00" height="17.00" rx="3.60" fill="#989898" filter="url(#b3)" transform="rotate(0.00 46.00 603.50)"/>
<rect x="58.00" y="598.00" width="18.00" height="14.00" rx="3.60" fill="#a4a4a4" filter="url(#b3)" transform="rotate(0.00 67.00 605.00)"/>
<path d="M35,594.2 Q45,598.6 55.5,598.8 Q66,598.4 76,596.8" fill="none" stroke="#262626" stroke-width="3.4" stroke-linecap="round" filter="url(#b1)"/>
<path d="M34.5,600.8 Q45,605.2 55.5,605.4 Q66,605 76,603.4" fill="none" stroke="#2a2a2a" stroke-width="4.2" stroke-linecap="round" filter="url(#b1)"/>
<path d="M36,607.8 Q46,611.3 55.5,611.5 Q66,611 76,609.3" fill="none" stroke="#4c4c4c" stroke-width="3.5" stroke-linecap="round" filter="url(#b1)"/>
</g>
<rect x="26.00" y="588.60" width="53.80" height="26.60" fill="none" stroke="#1a1a1a" stroke-width="1.15" rx="0.8"/>
<clipPath id="c71"><rect x="83.7" y="588.6" width="54.70" height="26.60"/></clipPath>
<rect x="83.70" y="588.60" width="54.70" height="26.60" fill="#e0e0e0" stroke="none" stroke-width="1" />
<g clip-path="url(#c71)">
<rect x="86.70" y="593.60" width="21.30" height="3.20" rx="1.60" fill="#606060" filter="url(#b1)" transform="rotate(-1.61 97.35 595.20)"/>
<rect x="86.70" y="600.30" width="21.30" height="4.50" rx="2.25" fill="#5c5c5c" filter="url(#b1)" transform="rotate(0.00 97.35 602.55)"/>
<rect x="87.50" y="606.60" width="19.50" height="3.90" rx="1.95" fill="#858585" filter="url(#b1)" transform="rotate(0.00 97.25 608.55)"/>
<rect x="115.00" y="593.00" width="21.00" height="3.20" rx="1.60" fill="#868686" filter="url(#b1)" transform="rotate(0.00 125.50 594.60)"/>
<rect x="115.00" y="599.70" width="21.00" height="4.40" rx="2.20" fill="#606060" filter="url(#b1)" transform="rotate(0.00 125.50 601.90)"/>
<rect x="115.00" y="606.00" width="21.00" height="4.40" rx="2.20" fill="#727272" filter="url(#b1)" transform="rotate(0.00 125.50 608.20)"/>
</g>
<rect x="83.70" y="588.60" width="54.70" height="26.60" fill="none" stroke="#1a1a1a" stroke-width="1.15" rx="0.8"/>
<clipPath id="c72"><rect x="142.7" y="588.6" width="53.90" height="26.60"/></clipPath>
<rect x="142.70" y="588.60" width="53.90" height="26.60" fill="#b2b2b2" stroke="none" stroke-width="1" />
<g clip-path="url(#c72)">
<rect x="147.00" y="591.00" width="22.00" height="23.00" rx="3.60" fill="#7c7c7c" filter="url(#b3)" transform="rotate(0.00 158.00 602.50)"/>
<rect x="171.50" y="592.00" width="24.50" height="23.00" rx="3.60" fill="#646464" filter="url(#b3)" transform="rotate(0.00 183.75 603.50)"/>
<rect x="166.00" y="594.00" width="8.00" height="18.00" rx="3.60" fill="#808080" filter="url(#b3)" transform="rotate(0.00 170.00 603.00)"/>
<rect x="148.00" y="593.20" width="20.50" height="5.20" rx="2.60" fill="#1a1a1a" filter="url(#b1)" transform="rotate(0.00 158.25 595.80)"/>
<rect x="148.00" y="600.20" width="20.50" height="6.20" rx="3.10" fill="#1a1a1a" filter="url(#b1)" transform="rotate(0.00 158.25 603.30)"/>
<rect x="149.00" y="607.20" width="18.50" height="4.60" rx="2.30" fill="#505050" filter="url(#b1)" transform="rotate(0.00 158.25 609.50)"/>
<rect x="172.00" y="595.00" width="23.00" height="4.40" rx="2.20" fill="#202020" filter="url(#b1)" transform="rotate(1.25 183.50 597.20)"/>
<rect x="172.00" y="601.00" width="23.00" height="6.60" rx="3.30" fill="#121212" filter="url(#b1)" transform="rotate(1.25 183.50 604.30)"/>
<rect x="173.00" y="608.20" width="21.50" height="4.60" rx="2.30" fill="#383838" filter="url(#b1)" transform="rotate(0.00 183.75 610.50)"/>
</g>
<rect x="142.70" y="588.60" width="53.90" height="26.60" fill="none" stroke="#1a1a1a" stroke-width="1.15" rx="0.8"/>
<text transform="translate(201.2,392.6)" font-size="12.5" font-weight="bold" text-anchor="start" fill="#000">pPTEN(S380)</text>
<text transform="translate(201.2,422.5)" font-size="12.5" font-weight="bold" text-anchor="start" fill="#000">PTEN</text>
<text transform="translate(201.2,452)" font-size="12.5" font-weight="bold" text-anchor="start" fill="#000">pPDK1(S241)</text>
<text transform="translate(202.5,481.8)" font-size="12.5" font-weight="bold" text-anchor="start" fill="#000">pAkt(S473)</text>
<text transform="translate(201.2,515.5)" font-size="12.5" font-weight="bold" text-anchor="start" fill="#000">Akt</text>
<text transform="translate(201.2,547.3)" font-size="12.5" font-weight="bold" text-anchor="start" fill="#000">pGSK3(Ser21/9)</text>
<text transform="translate(201.2,607)" font-size="12.5" font-weight="bold" text-anchor="start" fill="#000">p4E-BP1(T37/46)</text>
<text transform="translate(201.2,576.7)" font-size="12.5" font-weight="bold">pp70<tspan font-size="8.2" dy="-4.4">S6K</tspan><tspan dy="4.4" font-size="12.5"> (T389)</tspan></text>
</svg>
</body></html>
